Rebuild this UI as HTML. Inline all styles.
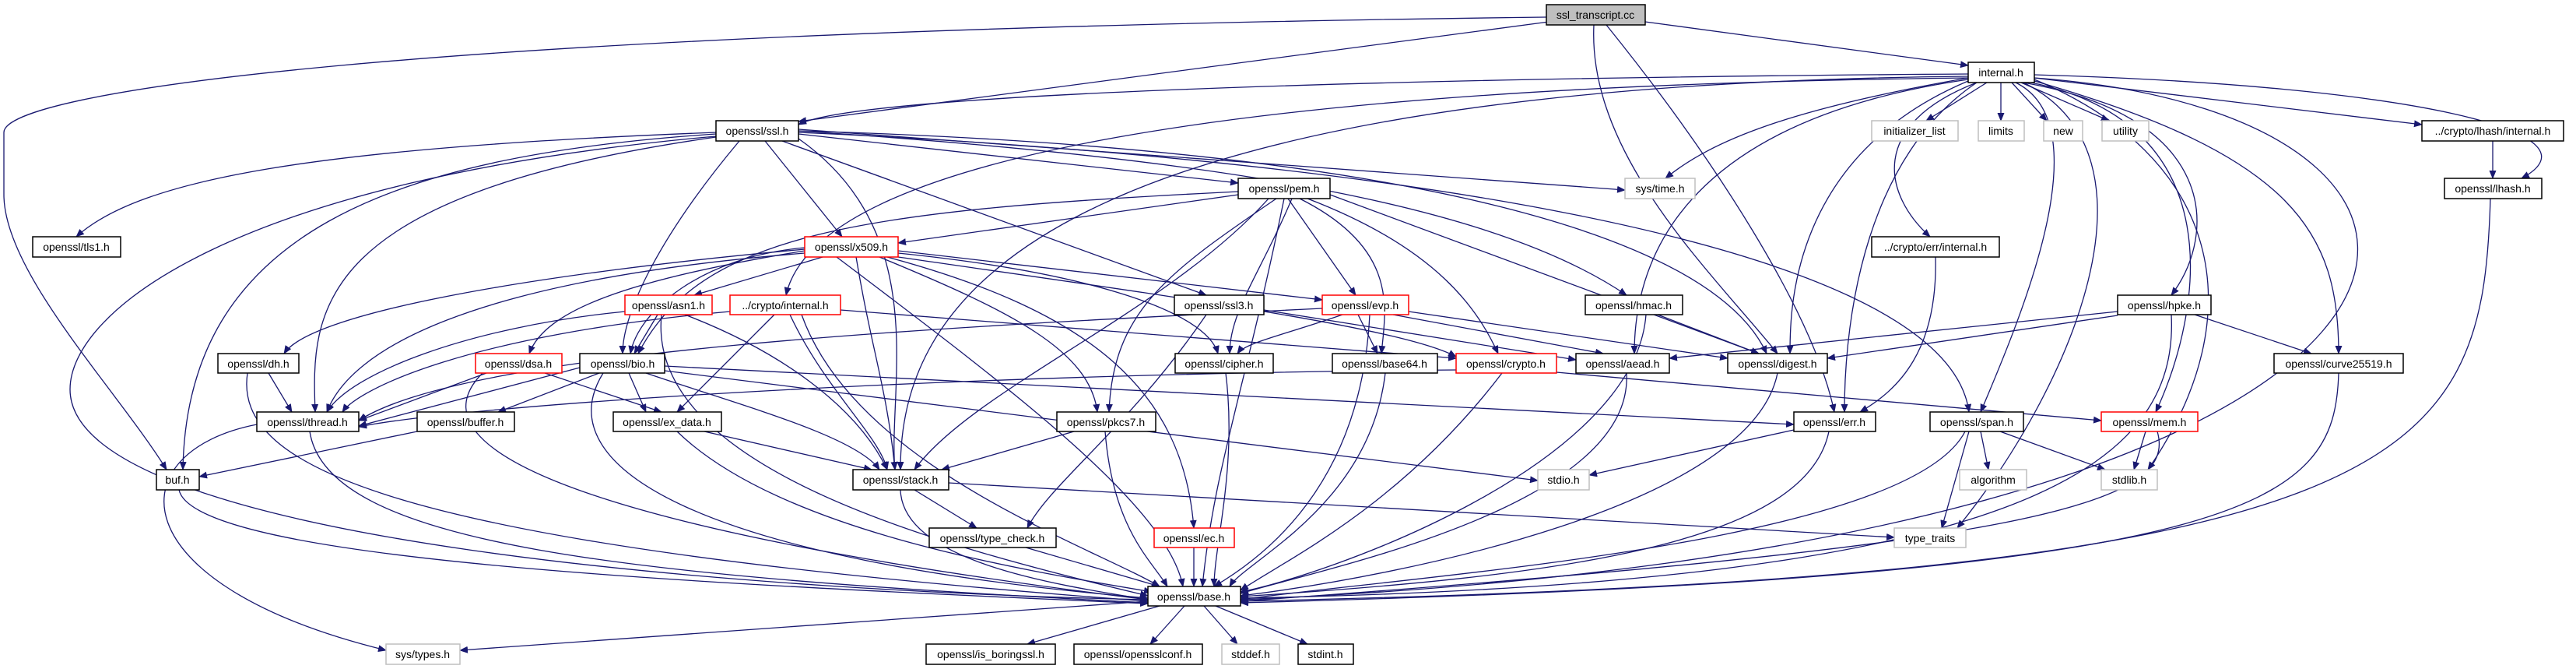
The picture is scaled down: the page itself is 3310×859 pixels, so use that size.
<!DOCTYPE html>
<html><head><meta charset="utf-8"><style>
html,body{margin:0;padding:0;background:#fff;width:3310px;height:859px;overflow:hidden}
svg{display:block}
text{font-family:"Liberation Sans",sans-serif;font-size:14px;fill:#000}
.e{fill:none;stroke:#191970;stroke-width:1.3}
.n rect{fill:#fff;stroke:#000;stroke-width:1.5}
.g rect{fill:#fff;stroke:#bfbfbf;stroke-width:1.5}
.r rect{fill:#fff;stroke:#ff0000;stroke-width:1.5}
</style></head><body>
<svg width="3310" height="859" viewBox="0 0 3310 859" xmlns="http://www.w3.org/2000/svg">
<defs><marker id="a" markerWidth="11" markerHeight="9" refX="10" refY="4.5" orient="auto" markerUnits="userSpaceOnUse"><path d="M0,0 L11,4.5 L0,9 z" fill="#191970"/></marker></defs>
<g class="e" marker-end="url(#a)">
<path d="M1987 22 C500 40 5 120 5 170 L5 250 C5 350 150 500 214 603"/>
<path d="M1990 28 L1026 156"/>
<path d="M2114 28 L2529 84"/>
<path d="M2048 32 C2040 200 2200 350 2284 454"/>
<path d="M2064 32 C2200 200 2330 400 2357 529"/>
<path d="M2529 95 C1800 100 1100 120 1026 160"/>
<path d="M2553 106 L2475 155"/>
<path d="M2571 106 L2571 155"/>
<path d="M2585 106 L2630 155"/>
<path d="M2597 106 L2710 155"/>
<path d="M2614 100 L3112 160"/>
<path d="M2614 96 C3100 110 3350 170 3240 229"/>
<path d="M2529 100 C2300 140 2200 180 2140 229"/>
<path d="M2540 106 C2400 160 2420 250 2480 304"/>
<path d="M2600 106 C2850 150 2850 300 2790 379"/>
<path d="M2614 104 C2950 200 3005 300 3005 454"/>
<path d="M2610 106 C2870 160 2830 400 2770 529"/>
<path d="M2590 106 C2700 160 2600 400 2545 529"/>
<path d="M2614 102 C2850 200 2900 400 2760 603"/>
<path d="M2600 106 C2790 200 2660 500 2515 678"/>
<path d="M2540 106 C2400 200 2370 400 2370 529"/>
<path d="M2529 104 C2300 200 2300 400 2300 454"/>
<path d="M2529 102 C2200 150 2100 300 2100 454"/>
<path d="M2529 98 C1300 110 1157 400 1157 603"/>
<path d="M2529 100 C1600 110 1050 200 1010 379"/>
<path d="M2614 100 C3300 150 3250 700 1594 770"/>
<path d="M920 170 C400 190 180 230 98 304"/>
<path d="M920 172 C500 200 240 300 235 603"/>
<path d="M920 175 C300 230 90 400 90 500 C90 700 1000 760 1475 770"/>
<path d="M920 176 C400 250 400 400 405 529"/>
<path d="M950 181 C850 300 800 400 800 454"/>
<path d="M983 181 L1082 304"/>
<path d="M1005 181 L1550 379"/>
<path d="M1026 172 L1591 235"/>
<path d="M1026 166 L2088 244"/>
<path d="M1026 168 C1500 200 1900 250 2090 379"/>
<path d="M1026 170 C1700 200 2500 300 2530 529"/>
<path d="M1026 168 C1800 190 2200 300 2270 454"/>
<path d="M1026 178 C1200 300 1140 500 1150 603"/>
<path d="M1591 250 L1154 312"/>
<path d="M1655 255 L1742 379"/>
<path d="M1591 246 C1100 270 900 300 820 454"/>
<path d="M1630 255 C1500 400 1250 500 1175 603"/>
<path d="M1640 255 C1500 350 1430 400 1425 529"/>
<path d="M1660 255 C1620 350 1580 400 1580 454"/>
<path d="M1670 255 C1800 320 1780 400 1775 454"/>
<path d="M1680 255 C1850 320 1900 400 1925 454"/>
<path d="M1709 250 L2260 454"/>
<path d="M1650 255 C1600 500 1560 600 1545 753"/>
<path d="M1057 330 L892 379"/>
<path d="M1034 318 C900 330 820 400 810 454"/>
<path d="M1034 320 C700 350 400 400 365 454"/>
<path d="M1034 322 C800 360 700 400 680 454"/>
<path d="M1034 325 C600 360 450 450 420 529"/>
<path d="M1100 330 C1120 450 1140 500 1150 603"/>
<path d="M1130 330 C1300 400 1400 450 1410 529"/>
<path d="M1075 330 C1300 500 1500 650 1520 753"/>
<path d="M1140 330 C1400 400 1520 500 1534 678"/>
<path d="M1154 322 L1699 385"/>
<path d="M1154 325 C1400 350 1550 400 1565 454"/>
<path d="M1154 330 C1500 380 1800 420 1871 458"/>
<path d="M845 404 L815 454"/>
<path d="M880 404 C1000 450 1100 520 1140 603"/>
<path d="M850 404 C830 600 1200 700 1475 765"/>
<path d="M803 400 C600 420 450 480 420 529"/>
<path d="M938 400 C600 430 460 500 440 529"/>
<path d="M1080 398 L1871 460"/>
<path d="M995 404 L870 529"/>
<path d="M1015 404 C1060 500 1130 560 1140 603"/>
<path d="M1030 404 C1100 600 1400 700 1490 753"/>
<path d="M1624 398 L2025 462"/>
<path d="M1550 404 C1450 550 1350 620 1320 678"/>
<path d="M1699 396 C1200 420 600 450 461 540"/>
<path d="M1745 404 L1770 454"/>
<path d="M1725 404 C1650 430 1600 440 1590 454"/>
<path d="M1790 404 L2060 454"/>
<path d="M1810 400 L2220 460"/>
<path d="M1760 404 C1750 600 1650 700 1560 753"/>
<path d="M2130 404 L2260 454"/>
<path d="M2115 404 C2100 600 1700 740 1594 760"/>
<path d="M2721 400 L2145 460"/>
<path d="M2721 405 L2348 460"/>
<path d="M2820 404 L2970 454"/>
<path d="M2790 404 C2800 600 2600 750 1594 768"/>
<path d="M2487 330 C2490 450 2440 500 2390 529"/>
<path d="M3203 181 L3203 229"/>
<path d="M3200 255 C3190 600 3100 740 1594 772"/>
<path d="M345 479 L375 529"/>
<path d="M318 479 C300 600 500 700 1475 772"/>
<path d="M625 479 L461 540"/>
<path d="M700 479 L850 529"/>
<path d="M620 479 C500 600 900 700 1475 770"/>
<path d="M745 472 L461 547"/>
<path d="M770 479 L640 529"/>
<path d="M808 479 L830 529"/>
<path d="M830 479 C950 520 1100 560 1130 603"/>
<path d="M775 479 C700 600 900 720 1475 768"/>
<path d="M854 470 L2305 545"/>
<path d="M854 476 L1976 617"/>
<path d="M1575 479 C1590 600 1560 700 1560 753"/>
<path d="M1780 479 C1760 650 1600 720 1580 753"/>
<path d="M1871 475 C1200 480 600 520 461 548"/>
<path d="M2000 478 L2700 540"/>
<path d="M1930 479 C1800 650 1650 720 1594 758"/>
<path d="M2090 479 C2100 650 1700 730 1594 762"/>
<path d="M2284 479 C2250 650 1800 740 1594 765"/>
<path d="M3005 479 C3000 650 2900 740 1594 774"/>
<path d="M398 554 C420 700 800 740 1475 774"/>
<path d="M330 545 C150 580 150 750 496 835"/>
<path d="M536 554 L256 612"/>
<path d="M905 554 L1120 603"/>
<path d="M870 554 C1000 680 1300 730 1480 760"/>
<path d="M1380 554 L1210 603"/>
<path d="M1420 554 C1430 680 1480 720 1500 753"/>
<path d="M2305 552 L2042 610"/>
<path d="M2350 554 C2320 700 2000 740 1594 766"/>
<path d="M2545 554 L2555 603"/>
<path d="M2570 554 L2705 603"/>
<path d="M2530 554 L2495 678"/>
<path d="M2525 554 C2450 700 1800 740 1594 770"/>
<path d="M2757 554 L2742 603"/>
<path d="M2772 554 C2800 650 2600 700 1594 772"/>
<path d="M230 629 C250 720 900 750 1475 775"/>
<path d="M1175 629 L1255 678"/>
<path d="M1157 629 C1160 720 1350 750 1475 770"/>
<path d="M1219 620 L2434 690"/>
<path d="M1318 703 L1490 753"/>
<path d="M1534 703 L1534 753"/>
<path d="M1475 772 L591 835"/>
<path d="M1490 778 L1320 827"/>
<path d="M1522 778 L1478 827"/>
<path d="M1547 778 L1590 827"/>
<path d="M1562 778 L1680 827"/>
</g>
<g text-anchor="middle">
<g class="n"><rect x="1987" y="6" width="127" height="26" style="fill:#bfbfbf"/><text x="2050" y="24">ssl_transcript.cc</text></g>
<g class="n"><rect x="2529" y="80" width="85" height="26"/><text x="2571" y="98">internal.h</text></g>
<g class="n"><rect x="920" y="155" width="106" height="26"/><text x="973" y="173">openssl/ssl.h</text></g>
<g class="g"><rect x="2405" y="155" width="111" height="26"/><text x="2460" y="173">initializer_list</text></g>
<g class="g"><rect x="2542" y="155" width="59" height="26"/><text x="2571" y="173">limits</text></g>
<g class="g"><rect x="2626" y="155" width="50" height="26"/><text x="2651" y="173">new</text></g>
<g class="g"><rect x="2701" y="155" width="60" height="26"/><text x="2731" y="173">utility</text></g>
<g class="n"><rect x="3112" y="155" width="182" height="26"/><text x="3203" y="173">../crypto/lhash/internal.h</text></g>
<g class="n"><rect x="1591" y="229" width="118" height="26"/><text x="1650" y="247">openssl/pem.h</text></g>
<g class="g"><rect x="2088" y="229" width="90" height="26"/><text x="2133" y="247">sys/time.h</text></g>
<g class="n"><rect x="3141" y="229" width="125" height="26"/><text x="3203" y="247">openssl/lhash.h</text></g>
<g class="n"><rect x="42" y="304" width="113" height="26"/><text x="98" y="322">openssl/tls1.h</text></g>
<g class="r"><rect x="1034" y="304" width="120" height="26"/><text x="1094" y="322">openssl/x509.h</text></g>
<g class="n"><rect x="2405" y="304" width="164" height="26"/><text x="2487" y="322">../crypto/err/internal.h</text></g>
<g class="r"><rect x="803" y="379" width="112" height="25"/><text x="859" y="397">openssl/asn1.h</text></g>
<g class="r"><rect x="938" y="379" width="142" height="25"/><text x="1009" y="397">../crypto/internal.h</text></g>
<g class="n"><rect x="1509" y="379" width="115" height="25"/><text x="1566" y="397">openssl/ssl3.h</text></g>
<g class="r"><rect x="1699" y="379" width="111" height="25"/><text x="1754" y="397">openssl/evp.h</text></g>
<g class="n"><rect x="2037" y="379" width="125" height="25"/><text x="2099" y="397">openssl/hmac.h</text></g>
<g class="n"><rect x="2721" y="379" width="120" height="25"/><text x="2781" y="397">openssl/hpke.h</text></g>
<g class="n"><rect x="280" y="454" width="104" height="25"/><text x="332" y="472">openssl/dh.h</text></g>
<g class="r"><rect x="611" y="454" width="111" height="25"/><text x="666" y="472">openssl/dsa.h</text></g>
<g class="n"><rect x="745" y="454" width="109" height="25"/><text x="800" y="472">openssl/bio.h</text></g>
<g class="n"><rect x="1510" y="454" width="126" height="25"/><text x="1573" y="472">openssl/cipher.h</text></g>
<g class="n"><rect x="1712" y="454" width="135" height="25"/><text x="1779" y="472">openssl/base64.h</text></g>
<g class="r"><rect x="1871" y="454" width="129" height="25"/><text x="1935" y="472">openssl/crypto.h</text></g>
<g class="n"><rect x="2025" y="454" width="120" height="25"/><text x="2085" y="472">openssl/aead.h</text></g>
<g class="n"><rect x="2220" y="454" width="128" height="25"/><text x="2284" y="472">openssl/digest.h</text></g>
<g class="n"><rect x="2922" y="454" width="166" height="25"/><text x="3005" y="472">openssl/curve25519.h</text></g>
<g class="n"><rect x="330" y="529" width="131" height="25"/><text x="395" y="547">openssl/thread.h</text></g>
<g class="n"><rect x="536" y="529" width="125" height="25"/><text x="598" y="547">openssl/buffer.h</text></g>
<g class="n"><rect x="788" y="529" width="139" height="25"/><text x="857" y="547">openssl/ex_data.h</text></g>
<g class="n"><rect x="1358" y="529" width="127" height="25"/><text x="1421" y="547">openssl/pkcs7.h</text></g>
<g class="n"><rect x="2305" y="529" width="105" height="25"/><text x="2357" y="547">openssl/err.h</text></g>
<g class="n"><rect x="2480" y="529" width="120" height="25"/><text x="2540" y="547">openssl/span.h</text></g>
<g class="r"><rect x="2700" y="529" width="124" height="25"/><text x="2762" y="547">openssl/mem.h</text></g>
<g class="n"><rect x="201" y="603" width="55" height="26"/><text x="228" y="621">buf.h</text></g>
<g class="n"><rect x="1096" y="603" width="123" height="26"/><text x="1157" y="621">openssl/stack.h</text></g>
<g class="g"><rect x="1976" y="603" width="66" height="26"/><text x="2009" y="621">stdio.h</text></g>
<g class="g"><rect x="2518" y="603" width="86" height="26"/><text x="2561" y="621">algorithm</text></g>
<g class="g"><rect x="2700" y="603" width="72" height="26"/><text x="2736" y="621">stdlib.h</text></g>
<g class="n"><rect x="1194" y="678" width="163" height="25"/><text x="1275" y="696">openssl/type_check.h</text></g>
<g class="r"><rect x="1483" y="678" width="103" height="25"/><text x="1534" y="696">openssl/ec.h</text></g>
<g class="g"><rect x="2434" y="678" width="92" height="25"/><text x="2480" y="696">type_traits</text></g>
<g class="n"><rect x="1475" y="753" width="119" height="25"/><text x="1534" y="771">openssl/base.h</text></g>
<g class="g"><rect x="496" y="827" width="95" height="26"/><text x="543" y="845">sys/types.h</text></g>
<g class="n"><rect x="1190" y="827" width="166" height="26"/><text x="1273" y="845">openssl/is_boringssl.h</text></g>
<g class="n"><rect x="1380" y="827" width="165" height="26"/><text x="1462" y="845">openssl/opensslconf.h</text></g>
<g class="g"><rect x="1570" y="827" width="74" height="26"/><text x="1607" y="845">stddef.h</text></g>
<g class="n"><rect x="1668" y="827" width="71" height="26"/><text x="1703" y="845">stdint.h</text></g>
</g>
</svg>
</body></html>
